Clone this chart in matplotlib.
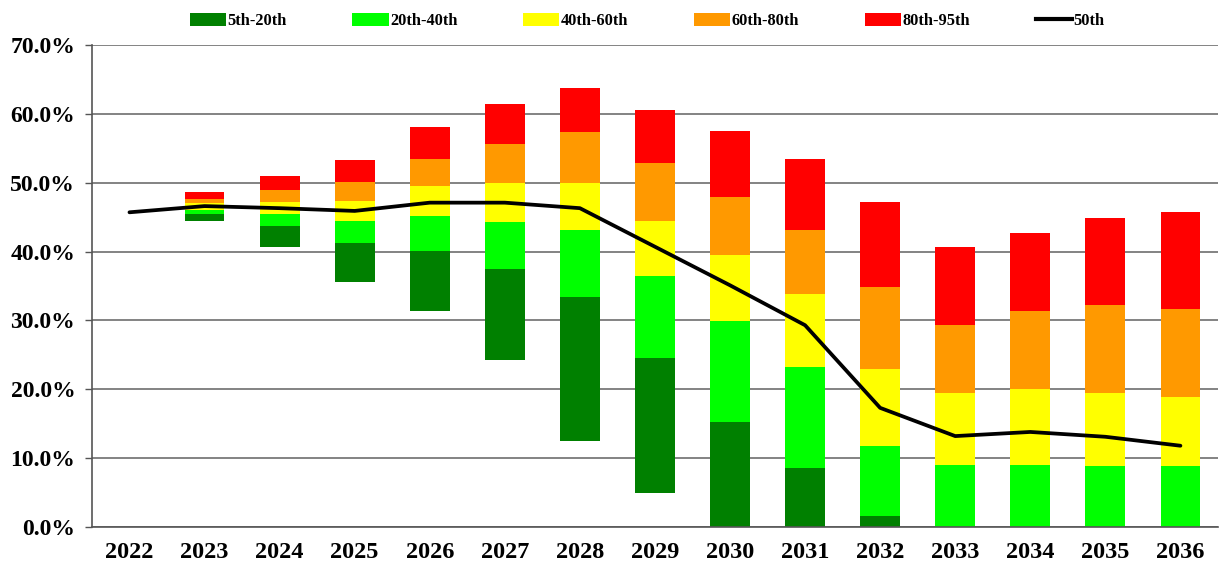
import numpy as np
import matplotlib.pyplot as plt
from matplotlib.patches import Patch
from matplotlib.lines import Line2D

# percentile bands (in %); 2022 has no bands
years = ['2022', '2023', '2024', '2025', '2026', '2027', '2028', '2029',
         '2030', '2031', '2032', '2033', '2034', '2035', '2036']
nan = np.nan
p5 = [nan, 44.4, 40.7, 35.6, 31.4, 24.3, 12.5, 4.9, 0, 0, 0, 0, 0, 0, 0]
p20 = [nan, 45.4, 43.7, 41.2, 40.1, 37.5, 33.4, 24.6, 15.3, 8.6, 1.6, 0, 0, 0, 0]
p40 = [nan, 46.1, 45.4, 44.4, 45.1, 44.3, 43.2, 36.5, 29.9, 23.3, 11.8, 9.0, 9.0, 8.9, 8.8]
p60 = [nan, 47.0, 47.2, 47.3, 49.5, 50.0, 50.0, 44.4, 39.5, 33.9, 23.0, 19.5, 20.0, 19.5, 18.9]
p80 = [nan, 47.7, 48.9, 50.1, 53.4, 55.6, 57.3, 52.8, 47.9, 43.2, 34.9, 29.4, 31.3, 32.3, 31.7]
p95 = [nan, 48.6, 50.9, 53.3, 58.1, 61.4, 63.8, 60.5, 57.5, 53.4, 47.2, 40.6, 42.7, 44.9, 45.8]
p50 = [45.7, 46.6, 46.3, 45.9, 47.1, 47.1, 46.3, 40.7, 35.1, 29.3, 17.3, 13.2, 13.8, 13.1, 11.8]

band_labels = ['5th-20th', '20th-40th', '40th-60th', '60th-80th', '80th-95th']
band_colors = ['#008000', '#00ff00', '#ffff00', '#ff9900', '#ff0000']

plt.rcParams['font.family'] = ['Liberation Serif', 'DejaVu Serif']
plt.rcParams['font.weight'] = 'bold'

fig = plt.figure(figsize=(12.21, 5.65), dpi=100)
ax = fig.add_axes([0.0753, 0.0673, 0.9222, 0.8531])

x = np.arange(len(years))
edges = [np.array(p, dtype=float) for p in (p5, p20, p40, p60, p80, p95)]
for i in range(5):
    ax.bar(x, edges[i + 1] - edges[i], bottom=edges[i], width=0.53,
           color=band_colors[i], edgecolor='none', zorder=2)

ax.plot(x, p50, color='black', lw=2.7, zorder=3, solid_capstyle='round')

ax.set_xlim(-0.5, len(years) - 0.5)
ax.set_ylim(0, 70)
ax.set_yticks(np.arange(0, 71, 10))
ax.set_yticklabels([f'{v:.1f}%' for v in np.arange(0, 71, 10)])
ax.set_xticks(x)
ax.set_xticklabels(years)
ax.tick_params(axis='y', labelsize=17, length=5, width=1, color='#555555', pad=7)
ax.tick_params(axis='x', labelsize=17.5, length=0, pad=11)
for lab in ax.get_xticklabels() + ax.get_yticklabels():
    lab.set_fontweight('bold')

ax.yaxis.grid(True, color='#6e6e6e', lw=1.2, zorder=0)
ax.set_axisbelow(True)
for s in ['top', 'right']:
    ax.spines[s].set_visible(False)
for s in ['left', 'bottom']:
    ax.spines[s].set_color('#555555')
    ax.spines[s].set_linewidth(1.2)

handles = [Patch(facecolor=c, edgecolor='none', label=l)
           for c, l in zip(band_colors, band_labels)]
handles.append(Line2D([0], [0], color='black', lw=3, label='50th'))
fig.legend(handles=handles, loc='upper center', bbox_to_anchor=(0.53, 1.003),
           ncol=6, frameon=False, prop={'size': 11.8, 'weight': 'bold'},
           handlelength=2.2, handleheight=0.8, handletextpad=0.1,
           columnspacing=4.0)

fig.savefig('out.png', dpi=100)
